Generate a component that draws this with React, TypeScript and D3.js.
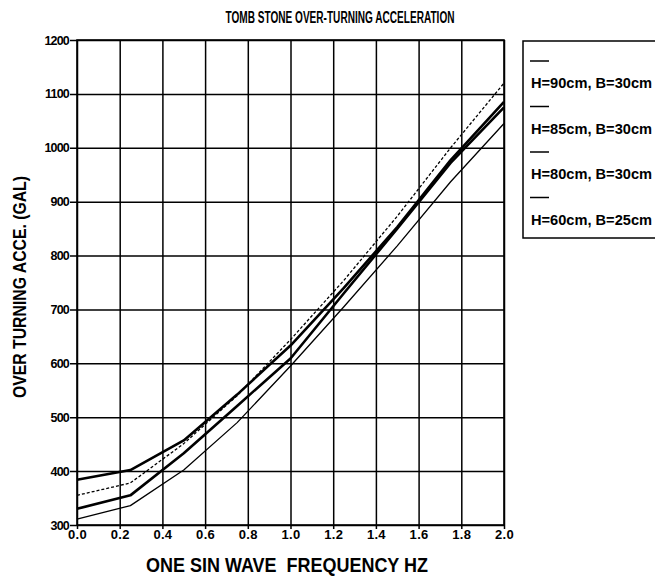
import React, { useRef, useEffect } from "react";
import * as d3 from "d3";

const width = 655;
const height = 579;

// one sin wave frequency (Hz)
const freq = [0, 0.25, 0.5, 0.75, 1.0, 1.25, 1.5, 1.75, 2.0];
// over-turning acceleration (gal)
const h90b30 = [311, 336, 402, 490, 595, 705, 818, 937, 1045];
const h85b30 = [330, 355, 433, 521, 609, 730, 850, 972, 1075];
const h80b30 = [355, 378, 451, 540, 644, 754, 873, 1000, 1120];
const h60b25 = [384, 402, 457, 542, 633, 740, 853, 977, 1085];

const legendLabels = ["H=90cm, B=30cm", "H=85cm, B=30cm", "H=80cm, B=30cm", "H=60cm, B=25cm"];
const xTicks = [0, 0.2, 0.4, 0.6, 0.8, 1.0, 1.2, 1.4, 1.6, 1.8, 2.0];
const yTicks = [300, 400, 500, 600, 700, 800, 900, 1000, 1100, 1200];

const title = "TOMB STONE OVER-TURNING ACCELERATION";
const xTitle = "ONE SIN WAVE  FREQUENCY HZ";
const yTitle = "OVER TURNING ACCE. (GAL)";

const left = 77, right = 504, top = 40, bottom = 525;
const font = "'Liberation Sans', Arial, Helvetica, sans-serif";

const series = [
  { values: h90b30, width: 1.3, dash: null },
  { values: h85b30, width: 2.6, dash: null },
  { values: h80b30, width: 1.3, dash: "3,2" },
  { values: h60b25, width: 2.6, dash: null },
];

const Chart = () => {
  const ref = useRef<SVGSVGElement>(null);

  useEffect(() => {
    const svg = d3.select(ref.current);
    svg.selectAll("*").remove();

    const x = d3.scaleLinear().domain([0, 2]).range([left, right]);
    const y = d3.scaleLinear().domain([300, 1200]).range([bottom, top]);

    svg.append("rect").attr("width", width).attr("height", height).attr("fill", "#fff");

    // y axis + horizontal grid
    const ya = svg
      .append("g")
      .attr("transform", `translate(${left},0)`)
      .call(
        d3.axisLeft(y).tickValues(yTicks).tickSize(-(right - left)).tickPadding(10).tickFormat(d3.format("d"))
      );
    ya.select(".domain").remove();
    ya.selectAll(".tick line").attr("stroke", "#000").attr("stroke-width", 1.5).attr("x1", -7);
    ya.selectAll(".tick text")
      .attr("font-family", font)
      .attr("font-weight", "bold")
      .attr("font-size", 12.5)
      .attr("letter-spacing", -0.8)
      .attr("x", -8)
      .attr("fill", "#000");

    // x axis + vertical grid
    const xa = svg
      .append("g")
      .attr("transform", `translate(0,${bottom})`)
      .call(d3.axisBottom(x).tickValues(xTicks).tickSize(-(bottom - top)).tickPadding(6).tickFormat(d3.format(".1f")));
    xa.select(".domain").remove();
    xa.selectAll(".tick line").attr("stroke", "#000").attr("stroke-width", 1.5).attr("y1", 4);
    xa.selectAll(".tick text")
      .attr("font-family", font)
      .attr("font-weight", "bold")
      .attr("font-size", 13)
      .attr("letter-spacing", 0.3)
      .attr("y", 5)
      .attr("fill", "#000");

    // frame
    svg
      .append("rect")
      .attr("x", left)
      .attr("y", top)
      .attr("width", right - left)
      .attr("height", bottom - top)
      .attr("fill", "none")
      .attr("stroke", "#000")
      .attr("stroke-width", 1.6);

    const line = d3
      .line<number>()
      .x((d, i) => x(freq[i]))
      .y((d) => y(d));

    series.forEach((s) => {
      svg
        .append("path")
        .attr("d", line(s.values))
        .attr("fill", "none")
        .attr("stroke", "#000")
        .attr("stroke-width", s.width)
        .attr("stroke-dasharray", s.dash)
        .attr("stroke-linejoin", "round");
    });

    // titles
    svg
      .append("text")
      .attr("x", 340)
      .attr("y", 23)
      .attr("text-anchor", "middle")
      .attr("font-family", font)
      .attr("font-weight", "bold")
      .attr("font-size", 16)
      .attr("textLength", 229)
      .attr("lengthAdjust", "spacingAndGlyphs")
      .text(title);

    svg
      .append("text")
      .attr("x", 287)
      .attr("y", 572)
      .attr("text-anchor", "middle")
      .attr("font-family", font)
      .attr("font-weight", "bold")
      .attr("font-size", 21)
      .attr("textLength", 282)
      .attr("lengthAdjust", "spacingAndGlyphs")
      .style("white-space", "pre")
      .text(xTitle);

    svg
      .append("text")
      .attr("transform", `translate(26,287) rotate(-90)`)
      .attr("text-anchor", "middle")
      .attr("font-family", font)
      .attr("font-weight", "bold")
      .attr("font-size", 19)
      .attr("textLength", 222)
      .attr("lengthAdjust", "spacingAndGlyphs")
      .text(yTitle);

    // legend
    const lg = svg.append("g");
    lg.append("rect")
      .attr("x", 523)
      .attr("y", 41)
      .attr("width", 140)
      .attr("height", 197)
      .attr("fill", "none")
      .attr("stroke", "#000")
      .attr("stroke-width", 1.5);
    legendLabels.forEach((lab, i) => {
      const yy = 61 + i * 45.5;
      lg.append("line")
        .attr("x1", 530)
        .attr("x2", 549)
        .attr("y1", yy)
        .attr("y2", yy)
        .attr("stroke", "#000")
        .attr("stroke-width", 1.5);
      lg.append("text")
        .attr("x", 531)
        .attr("y", yy + 27)
        .attr("font-family", font)
        .attr("font-weight", "bold")
        .attr("font-size", 14.5)
        .attr("textLength", 121)
        .attr("lengthAdjust", "spacingAndGlyphs")
        .text(lab);
    });
  }, []);

  return <svg ref={ref} width={width} height={height} style={{ position: "absolute", left: 0, top: 0, display: "block" }} />;
};

export default function App() {
  return <Chart />;
}
